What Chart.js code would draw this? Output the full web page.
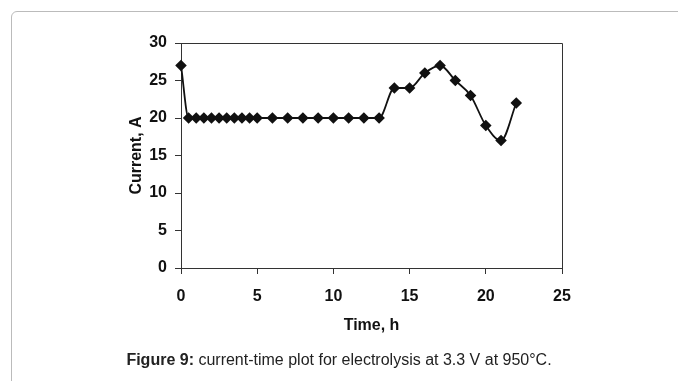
<!DOCTYPE html>
<html>
<head>
<meta charset="utf-8">
<script src="https://cdn.jsdelivr.net/npm/chart.js@4.4.1/dist/chart.umd.min.js"></script>
<style>
    html, body { margin: 0; padding: 0; background: #fff; }
    body { width: 678px; height: 381px; position: relative; overflow: hidden; font-family: "Liberation Sans", Arial, sans-serif; }
    #frame { position: absolute; left: 11px; top: 11px; width: 700px; height: 400px; border: 1px solid #bbb; border-radius: 6px; }
    #wrap { position: absolute; left: 0; top: 0; width: 678px; height: 381px; }
    #caption { position: absolute; left: 0; width: 678px; top: 351px; text-align: center; font-size: 16px; color: #222; }
</style>
</head>
<body>
<div id="frame"></div>
<div id="wrap"><canvas id="chart" width="678" height="381"></canvas></div>
<div id="caption"><b>Figure 9:</b> current-time plot for electrolysis at 3.3 V at 950°C.</div>
<script>
// time in hours and measured current in amperes
const hours = [0, 0.5, 1, 1.5, 2, 2.5, 3, 3.5, 4, 4.5, 5, 6, 7, 8, 9, 10, 11, 12, 13, 14, 15, 16, 17, 18, 19, 20, 21, 22];
const current = [27, 20, 20, 20, 20, 20, 20, 20, 20, 20, 20, 20, 20, 20, 20, 20, 20, 20, 20, 24, 24, 26, 27, 25, 23, 19, 17, 22];

const xTicks = [0, 5, 10, 15, 20, 25];
const yTicks = [0, 5, 10, 15, 20, 25, 30];

// draws the top and right sides of the plot box
const boxPlugin = {
    id: 'box',
    beforeDatasetsDraw(chart) {
        const a = chart.chartArea;
        const ctx = chart.ctx;
        ctx.save();
        ctx.strokeStyle = '#333';
        ctx.lineWidth = 1;
        ctx.beginPath();
        ctx.moveTo(a.left, a.top + 0.5);
        ctx.lineTo(a.right + 0.5, a.top + 0.5);
        ctx.lineTo(a.right + 0.5, a.bottom);
        ctx.stroke();
        ctx.restore();
    }
};

const points = hours.map((h, i) => ({ x: h, y: current[i] }));

new Chart(document.getElementById('chart'), {
    type: 'line',
    data: {
        datasets: [{
            data: points,
            borderColor: '#111',
            backgroundColor: '#111',
            borderWidth: 1.8,
            cubicInterpolationMode: 'monotone',
            clip: false,
            pointStyle: 'rectRot',
            pointRadius: 4.5,
            pointHoverRadius: 4.5
        }]
    },
    options: {
        responsive: false,
        animation: false,
        events: [],
        layout: { padding: { left: 121, right: 116, top: 43, bottom: 46 } },
        plugins: { legend: { display: false }, tooltip: { enabled: false } },
        scales: {
            x: {
                type: 'linear',
                min: 0,
                max: 25,
                afterBuildTicks: s => { s.ticks = xTicks.map(v => ({ value: v })); },
                afterFit: s => { s.height = 67; },
                grid: { drawOnChartArea: false, drawTicks: true, tickLength: 6, color: '#333' },
                border: { color: '#333', width: 1 },
                ticks: { color: '#111', padding: 13, font: { family: 'Liberation Sans', size: 16, weight: 'bold' } },
                title: { display: true, text: 'Time, h', color: '#111', padding: { top: 4, bottom: 0 }, font: { family: 'Liberation Sans', size: 16, weight: 'bold' } }
            },
            y: {
                min: 0,
                max: 30,
                afterBuildTicks: s => { s.ticks = yTicks.map(v => ({ value: v })); },
                afterFit: s => { s.width = 60; },
                grid: { drawOnChartArea: false, drawTicks: true, tickLength: 6, color: '#333' },
                border: { color: '#333', width: 1 },
                ticks: { color: '#111', padding: 8, font: { family: 'Liberation Sans', size: 16, weight: 'bold' } },
                title: { display: true, text: 'Current, A', color: '#111', padding: { top: 6, bottom: 0 }, font: { family: 'Liberation Sans', size: 16, weight: 'bold' } }
            }
        }
    },
    plugins: [boxPlugin]
});
</script>
</body>
</html>
